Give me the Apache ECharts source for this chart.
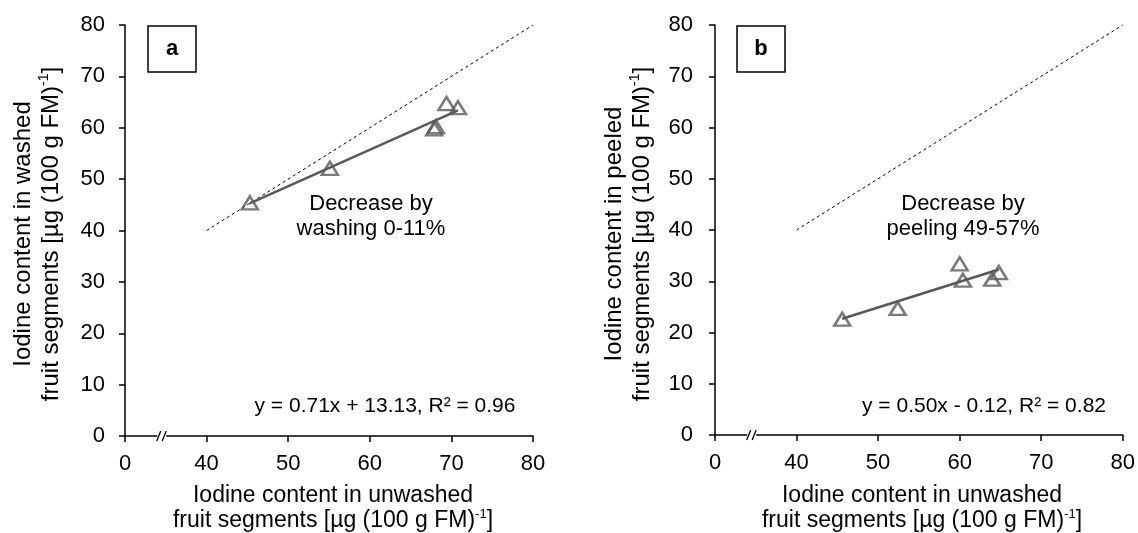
<!DOCTYPE html>
<html>
<head>
<meta charset="utf-8">
<title>Iodine content in fruit segments</title>
<script src="https://cdn.jsdelivr.net/npm/echarts@6/dist/echarts.min.js"></script>
<style>
  html, body { margin: 0; padding: 0; background: #fff; }
  #chart { width: 1138px; height: 533px; }
</style>
</head>
<body>
<div id="chart"></div>
<script>
// Panel a: unwashed vs. washed fruit segments, µg (100 g FM)^-1
const unwashedA = [45.3, 55.1, 67.9, 68.1, 69.4, 70.8];
const washedA   = [45.4, 52.1, 59.8, 60.2, 64.7, 63.9];
const slopeA = 0.71, interceptA = 13.13, r2A = 0.96;

// Panel b: unwashed vs. peeled fruit segments
const unwashedB = [45.6, 52.4, 60.0, 60.4, 64.0, 64.8];
const peeledB   = [22.6, 24.7, 33.4, 30.2, 30.4, 31.7];
const slopeB = 0.50, interceptB = -0.12, r2B = 0.82;

// 1:1 reference line
const identityLine = [[40, 40], [80, 80]];

// Broken x axis: the first tick (drawn as "0") sits one interval before 40
const xTickValues = [30, 40, 50, 60, 70, 80];
const xTickLabels = ['0', '40', '50', '60', '70', '80'];
const yTickLabels = ['0', '10', '20', '30', '40', '50', '60', '70', '80'];
const axisBreakAt = 34.5;

const FONT = "'Liberation Sans', Arial, sans-serif";
const GREY = '#595959';

function pairs(xs, ys) { return xs.map((x, i) => [x, ys[i]]); }
function fitLine(xs, slope, intercept) {
  const lo = Math.min(...xs), hi = Math.max(...xs);
  return [[lo, slope * lo + intercept], [hi, slope * hi + intercept]];
}

function xAxisFor(gridIndex) {
  return {
    type: 'value', gridIndex,
    min: xTickValues[0], max: xTickValues[xTickValues.length - 1], interval: 10,
    axisLine: { show: true, onZero: false, lineStyle: { color: '#000', width: 1.5 } },
    axisTick: { show: true, inside: false, length: 6, lineStyle: { color: '#000', width: 1.5 } },
    axisLabel: { show: true, margin: 17, color: '#000', fontSize: 22, fontFamily: FONT,
                 formatter: (v, i) => xTickLabels[i] },
    splitLine: { show: false }
  };
}
function yAxisFor(gridIndex, margin) {
  return {
    type: 'value', gridIndex, min: 0, max: 80, interval: 10,
    axisLine: { show: true, lineStyle: { color: '#000', width: 1.5 } },
    axisTick: { show: true, inside: false, length: 6, lineStyle: { color: '#000', width: 1.5 } },
    axisLabel: { show: true, margin, color: '#000', fontSize: 22, fontFamily: FONT,
                 formatter: (v, i) => yTickLabels[i] },
    splitLine: { show: false }
  };
}

function breakSeries(idx) {
  return {
    type: 'custom', xAxisIndex: idx, yAxisIndex: idx, z: 5, silent: true,
    data: [[axisBreakAt, 0]],
    renderItem: (params, api) => {
      const p = api.coord([api.value(0), api.value(1)]);
      const cx = p[0], cy = p[1];
      return {
        type: 'group',
        children: [
          { type: 'rect', shape: { x: cx - 4.5, y: cy - 3, width: 9, height: 6 }, style: { fill: '#fff' } },
          { type: 'line', shape: { x1: cx - 5, y1: cy + 5, x2: cx - 1, y2: cy - 5 }, style: { stroke: '#000', lineWidth: 1.3 } },
          { type: 'line', shape: { x1: cx + 0.5, y1: cy + 5, x2: cx + 4.5, y2: cy - 5 }, style: { stroke: '#000', lineWidth: 1.3 } }
        ]
      };
    }
  };
}

function panelSeries(idx, xs, ys, slope, intercept) {
  return [
    {
      type: 'line', xAxisIndex: idx, yAxisIndex: idx, data: identityLine,
      symbol: 'none', silent: true, z: 2,
      lineStyle: { color: '#000', width: 1, type: [3, 3] }
    },
    {
      type: 'line', xAxisIndex: idx, yAxisIndex: idx, data: fitLine(xs, slope, intercept),
      symbol: 'none', silent: true, z: 3,
      lineStyle: { color: GREY, width: 2.5 }
    },
    {
      type: 'scatter', xAxisIndex: idx, yAxisIndex: idx, data: pairs(xs, ys),
      symbol: 'triangle', symbolSize: [16, 13], z: 4,
      itemStyle: { color: 'rgba(0,0,0,0)', borderColor: GREY, borderWidth: 2.5 }
    },
    breakSeries(idx)
  ];
}

function titleRich(size, lh) {
  return {
    t: { fontSize: size, lineHeight: lh, fontFamily: FONT, color: '#000' },
    s: { fontSize: Math.round(size * 0.58), lineHeight: Math.round(size * 0.58), fontFamily: FONT,
         color: '#000', verticalAlign: 'top' }
  };
}
function axisTitle(x, y, line1, rotated) {
  const size = rotated ? 24 : 23;
  return {
    type: 'text', x, y, rotation: rotated ? Math.PI / 2 : 0, z: 10,
    style: {
      text: '{t|' + line1 + '}\n{t|fruit segments [µg (100 g FM)}{s|-1}{t|]}',
      rich: titleRich(size, rotated ? 28 : 25), align: 'center', verticalAlign: 'middle'
    }
  };
}
function note(x, y, text, size) {
  return {
    type: 'text', x, y, z: 10,
    style: { text, fontSize: size, lineHeight: 25, fontFamily: FONT, fill: '#000',
             align: 'center', verticalAlign: 'middle' }
  };
}
function panelTag(x, y, letter) {
  return [
    { type: 'rect', z: 10, shape: { x, y, width: 48, height: 46 },
      style: { fill: '#fff', stroke: '#000', lineWidth: 1.5 } },
    { type: 'text', z: 11, x: x + 24, y: y + 23,
      style: { text: letter, fontSize: 22, fontWeight: 'bold', fontFamily: FONT, fill: '#000',
               align: 'center', verticalAlign: 'middle' } }
  ];
}
function equation(slope, intercept, r2) {
  const sign = intercept < 0 ? '-' : '+';
  return 'y = ' + slope.toFixed(2) + 'x ' + sign + ' ' + Math.abs(intercept).toFixed(2) +
         ', R² = ' + r2.toFixed(2);
}

const chart = echarts.init(document.getElementById('chart'), null, { renderer: 'canvas' });
chart.setOption({
  backgroundColor: '#fff',
  animation: false,
  grid: [
    { left: 125, top: 25, width: 408, height: 411 },
    { left: 715, top: 25, width: 408, height: 410 }
  ],
  xAxis: [xAxisFor(0), xAxisFor(1)],
  yAxis: [yAxisFor(0, 20), yAxisFor(1, 22)],
  series: [
    ...panelSeries(0, unwashedA, washedA, slopeA, interceptA),
    ...panelSeries(1, unwashedB, peeledB, slopeB, interceptB)
  ],
  graphic: [
    ...panelTag(148, 26, 'a'),
    ...panelTag(737, 26, 'b'),
    note(371, 216, 'Decrease by\nwashing 0-11%', 22),
    note(963, 216, 'Decrease by\npeeling 49-57%', 22),
    note(385, 406, equation(slopeA, interceptA, r2A), 21),
    note(984, 406, equation(slopeB, interceptB, r2B), 21),
    axisTitle(37, 234, 'Iodine content in washed', true),
    axisTitle(628, 234, 'Iodine content in peeled', true),
    axisTitle(333, 508, 'Iodine content in unwashed', false),
    axisTitle(922, 508, 'Iodine content in unwashed', false)
  ]
});
</script>
</body>
</html>
